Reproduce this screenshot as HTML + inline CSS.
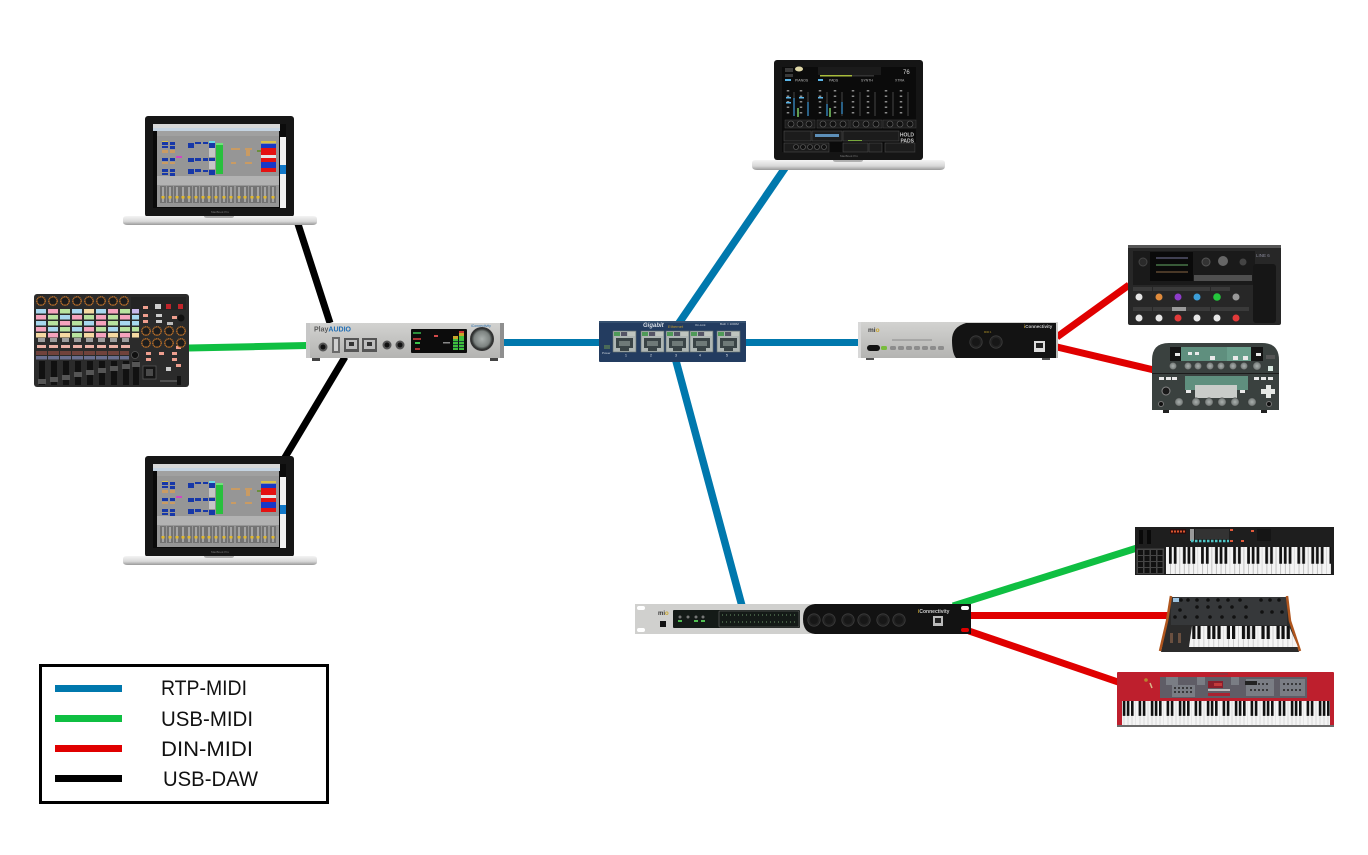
<!DOCTYPE html>
<html><head><meta charset="utf-8"><style>html,body{margin:0;padding:0;background:#fff}svg{display:block}text{font-family:"Liberation Sans",sans-serif}.soft{filter:blur(.35px)}</style></head><body>
<svg width="1368" height="855" viewBox="0 0 1368 855" xmlns="http://www.w3.org/2000/svg">
<defs>
<linearGradient id="base" x1="0" y1="0" x2="0" y2="1"><stop offset="0" stop-color="#f4f4f4"/><stop offset=".6" stop-color="#d8d8d8"/><stop offset="1" stop-color="#999"/></linearGradient>
<linearGradient id="silver" x1="0" y1="0" x2="0" y2="1"><stop offset="0" stop-color="#d2d2d0"/><stop offset="1" stop-color="#b4b4b2"/></linearGradient>
<radialGradient id="kn"><stop offset="0" stop-color="#aab0ae"/><stop offset=".75" stop-color="#7c8280"/><stop offset="1" stop-color="#2c2f2e"/></radialGradient>
<pattern id="k61" patternUnits="userSpaceOnUse" x="1166" y="547" width="32.1" height="27" viewBox="0 0 70 100" preserveAspectRatio="none"><rect width="70" height="100" fill="#f4f4f4"/><path d="M10 0V100M20 0V100M30 0V100M40 0V100M50 0V100M60 0V100M70 0V100" stroke="#999" stroke-width="1.200"/><path d="M6.500 0h6v62h-6zM17 0h6v62h-6zM37 0h6v62h-6zM47 0h6v62h-6zM57.500 0h6v62h-6z" fill="#111"/></pattern>
<pattern id="k88" patternUnits="userSpaceOnUse" x="1108" y="701" width="28" height="24" viewBox="0 0 70 100" preserveAspectRatio="none"><rect width="70" height="100" fill="#f4f4f4"/><path d="M10 0V100M20 0V100M30 0V100M40 0V100M50 0V100M60 0V100M70 0V100" stroke="#aaa" stroke-width="1.200"/><path d="M6.500 0h6.500v62h-6.500zM17 0h6.500v62h-6.500zM37 0h6.500v62h-6.500zM47 0h6.500v62h-6.500zM57.500 0h6.500v62h-6.500z" fill="#111"/></pattern>
<pattern id="k37" patternUnits="userSpaceOnUse" x="1189" y="626" width="34.600" height="21" viewBox="0 0 70 100" preserveAspectRatio="none"><rect width="70" height="100" fill="#f4f4f4"/><path d="M10 0V100M20 0V100M30 0V100M40 0V100M50 0V100M60 0V100M70 0V100" stroke="#aaa" stroke-width="1"/><path d="M6.500 0h6.500v62h-6.500zM17 0h6.500v62h-6.500zM37 0h6.500v62h-6.500zM47 0h6.500v62h-6.500zM57.500 0h6.500v62h-6.500z" fill="#111"/></pattern>
<g id="rj"><rect width="23" height="21" fill="#aeb6b4" stroke="#66706e" stroke-width=".6"/><rect x="1" y="1" width="6" height="4" fill="#4f9a58"/><rect x="15" y="1" width="7" height="4" fill="#bfc5bf"/><rect x="8" y="1" width="6" height="4" fill="#556"/><path d="M3 7h17v10h-4v3h-9v-3h-4z" fill="#3a4446"/><rect x="6" y="10" width="11" height="5" fill="#6f7a78"/></g>
<g id="din"><circle r="6.200" fill="#222" stroke="#3d3d3d" stroke-width=".8"/><circle r="4" fill="#171717"/></g>
<g id="sqk"><circle r="4.200" fill="#1d1d1d" stroke="#b96f2a" stroke-width="1.400" stroke-dasharray="1.200 .5"/></g>
<g id="strip"><rect x="-3" width="6" height="17" fill="#737373"/><rect x="-1" y="1" width="2" height="15" fill="#a5a5a5"/><rect x="-1.500" y="10" width="3" height="2.500" fill="#e2b92c"/></g>
<g id="laptop">
<rect x="145" y="116" width="149" height="101" rx="3" fill="#161616"/>
<rect x="153" y="124" width="127" height="84" fill="#0a0a0a"/>
<rect x="157" y="136" width="122" height="71" fill="#969696"/>
<rect x="153" y="124" width="127" height="4" fill="#d8d8d8"/><rect x="153" y="128" width="127" height="3" fill="#c5d4e2"/><rect x="157" y="131" width="122" height="5" fill="#a0a0a0"/><rect x="280" y="124" width="6" height="13" fill="#0c0c0c"/><rect x="280" y="137" width="6" height="71" fill="#f2f2f2"/><rect x="280" y="165" width="6" height="9" fill="#1279c9"/>
<g fill="#1738a8"><rect x="162" y="142" width="6" height="3"/><rect x="170" y="142" width="5" height="3"/><rect x="162" y="146" width="6" height="2"/><rect x="170" y="146" width="5" height="3"/><rect x="162" y="158" width="6" height="3"/><rect x="170" y="158" width="5" height="3"/><rect x="162" y="169" width="6" height="3"/><rect x="170" y="169" width="5" height="3"/><rect x="162" y="173" width="6" height="2"/><rect x="170" y="173" width="5" height="3"/><rect x="188" y="143" width="6" height="5"/><rect x="195" y="142" width="6" height="2"/><rect x="203" y="142" width="5" height="2"/><rect x="209" y="143" width="6" height="5"/><rect x="188" y="158" width="6" height="4"/><rect x="195" y="158" width="6" height="3"/><rect x="203" y="158" width="5" height="3"/><rect x="209" y="158" width="6" height="3"/><rect x="188" y="169" width="6" height="5"/><rect x="195" y="169" width="6" height="3"/><rect x="203" y="170" width="5" height="2"/><rect x="209" y="170" width="6" height="5"/></g>
<rect x="209" y="148" width="6" height="9" fill="#c6c6c6"/><rect x="209" y="161" width="6" height="8" fill="#c6c6c6"/><rect x="209" y="141" width="6" height="2" fill="#6bd8e8"/>
<g fill="#c99b63"><rect x="162" y="150" width="6" height="3"/><rect x="170" y="150" width="5" height="3"/><rect x="162" y="162" width="6" height="2"/><rect x="170" y="162" width="5" height="2"/><rect x="231" y="148" width="9" height="2"/><rect x="245" y="148" width="7" height="2"/><rect x="231" y="162" width="5" height="2"/><rect x="245" y="162" width="7" height="2"/><rect x="246" y="150" width="4" height="6"/></g>
<rect x="176" y="156" width="6" height="2" fill="#cf45c3"/><rect x="162" y="141" width="6" height="1" fill="#d7c24c"/>
<rect x="216" y="143" width="7" height="31" fill="#29c03d"/><rect x="216" y="143" width="7" height="2" fill="#6fe27a"/>
<rect x="257" y="150" width="5" height="2" fill="#6a8f3c"/>
<rect x="261" y="141" width="15" height="2" fill="#d7c24c"/><rect x="261" y="144" width="15" height="4" fill="#1738c8"/><rect x="261" y="148" width="15" height="7" fill="#e41212"/><rect x="261" y="155" width="15" height="3" fill="#e6e6e6"/><rect x="261" y="158" width="15" height="4" fill="#e41212"/><rect x="261" y="162" width="15" height="6" fill="#1738c8"/><rect x="261" y="168" width="15" height="4" fill="#e41212"/>
<rect x="157" y="176" width="122" height="9" fill="#b2b2b2"/>
<use href="#strip" x="163" y="186"/><use href="#strip" x="170" y="186"/><use href="#strip" x="177" y="186"/><use href="#strip" x="183" y="186"/><use href="#strip" x="189" y="186"/><use href="#strip" x="196" y="186"/><use href="#strip" x="203" y="186"/><use href="#strip" x="209" y="186"/><use href="#strip" x="216" y="186"/><use href="#strip" x="224" y="186"/><use href="#strip" x="231" y="186"/><use href="#strip" x="239" y="186"/><use href="#strip" x="245" y="186"/><use href="#strip" x="252" y="186"/><use href="#strip" x="258" y="186"/><use href="#strip" x="265" y="186"/><use href="#strip" x="273" y="186"/>
<path d="M123 219q0-3 4-3h186q4 0 4 3v3q0 3-5 3h-184q-5 0-5-3z" fill="url(#base)"/>
<path d="M204 216h30q0 2-3 2h-24q-3 0-3-2z" fill="#b0b0b0"/>
</g>
</defs>
<rect width="1368" height="855" fill="#fff"/>
<g class="soft">
<g fill="none" stroke-linecap="butt">
<g stroke="#000" stroke-width="7"><path d="M298 224L330 323"/><path d="M345 357L284 459"/></g>
<path d="M189 348L307 345.500" stroke="#0fbf42" stroke-width="7"/>
<g stroke="#0078ad" stroke-width="7"><path d="M503 342.500H600"/><path d="M745 342.500H859"/><path d="M679 323L785 168" stroke-width="7.500"/><path d="M676 361L742 606" stroke-width="7.500"/></g>
<g stroke="#e00000" stroke-width="7"><path d="M1057 337L1129 285"/><path d="M1057 347L1154 370"/><path d="M969 615.500H1169"/><path d="M969 631L1118 682"/></g>
<path d="M953 606L1137 548" stroke="#0fbf42" stroke-width="7"/>
</g>

<use href="#laptop"/>
<text x="220" y="213" font-size="3" fill="#777" text-anchor="middle">MacBook Pro</text>
<use href="#laptop" y="340"/>
<text x="220" y="553" font-size="3" fill="#777" text-anchor="middle">MacBook Pro</text>

<!-- APC -->
<rect x="34" y="294" width="155" height="93" rx="3" fill="#2b2b2b"/>
<rect x="131" y="297" width="55" height="13" fill="#242424"/>
<use href="#sqk" x="41" y="301"/><use href="#sqk" x="53" y="301"/><use href="#sqk" x="65" y="301"/><use href="#sqk" x="77" y="301"/><use href="#sqk" x="89" y="301"/><use href="#sqk" x="101" y="301"/><use href="#sqk" x="113" y="301"/><use href="#sqk" x="124" y="301"/>
<g>
<g fill="#a8d8ef"><rect x="36" y="309" width="10" height="4.500"/><rect x="72" y="309" width="10" height="4.500"/><rect x="60" y="315" width="10" height="4.500"/><rect x="96" y="309" width="10" height="4.500"/><rect x="36" y="321" width="10" height="4.500"/><rect x="48" y="327" width="10" height="4.500"/><rect x="84" y="321" width="10" height="4.500"/><rect x="120" y="321" width="10" height="4.500"/><rect x="132" y="315" width="7" height="4.500"/><rect x="108" y="327" width="10" height="4.500"/><rect x="72" y="327" width="10" height="4.500"/></g>
<g fill="#f5a3bd"><rect x="48" y="309" width="10" height="4.500"/><rect x="108" y="309" width="10" height="4.500"/><rect x="36" y="315" width="10" height="4.500"/><rect x="72" y="315" width="10" height="4.500"/><rect x="96" y="315" width="10" height="4.500"/><rect x="120" y="315" width="10" height="4.500"/><rect x="60" y="321" width="10" height="4.500"/><rect x="96" y="321" width="10" height="4.500"/><rect x="36" y="327" width="10" height="4.500"/><rect x="84" y="327" width="10" height="4.500"/><rect x="48" y="333" width="10" height="4.500"/><rect x="96" y="333" width="10" height="4.500"/><rect x="120" y="333" width="10" height="4.500"/></g>
<g fill="#b8e39f"><rect x="60" y="309" width="10" height="4.500"/><rect x="120" y="309" width="10" height="4.500"/><rect x="48" y="315" width="10" height="4.500"/><rect x="84" y="315" width="10" height="4.500"/><rect x="108" y="315" width="10" height="4.500"/><rect x="48" y="321" width="10" height="4.500"/><rect x="72" y="321" width="10" height="4.500"/><rect x="108" y="321" width="10" height="4.500"/><rect x="60" y="327" width="10" height="4.500"/><rect x="96" y="327" width="10" height="4.500"/><rect x="120" y="327" width="10" height="4.500"/><rect x="72" y="333" width="10" height="4.500"/></g>
<g fill="#f5d9a2"><rect x="84" y="309" width="10" height="4.500"/><rect x="36" y="333" width="10" height="4.500"/><rect x="60" y="333" width="10" height="4.500"/><rect x="84" y="333" width="10" height="4.500"/><rect x="108" y="333" width="10" height="4.500"/><rect x="132" y="333" width="7" height="4.500"/></g>
<rect x="132" y="309" width="7" height="4.500" fill="#c9b8ea"/><rect x="132" y="321" width="7" height="4.500" fill="#a8d8ef"/><rect x="132" y="327" width="7" height="4.500" fill="#b8e39f"/>
</g>
<g fill="#9d9d9d"><rect x="38" y="338" width="7" height="4"/><rect x="50" y="338" width="7" height="4"/><rect x="62" y="338" width="7" height="4"/><rect x="74" y="338" width="7" height="4"/><rect x="86" y="338" width="7" height="4"/><rect x="98" y="338" width="7" height="4"/><rect x="110" y="338" width="7" height="4"/><rect x="122" y="338" width="7" height="4"/></g>
<g fill="#eab0a5"><rect x="37" y="345" width="9" height="3"/><rect x="49" y="345" width="9" height="3"/><rect x="61" y="345" width="9" height="3"/><rect x="73" y="345" width="9" height="3"/><rect x="85" y="345" width="9" height="3"/><rect x="97" y="345" width="9" height="3"/><rect x="109" y="345" width="9" height="3"/><rect x="121" y="345" width="9" height="3"/></g>
<g fill="#70423c"><rect x="36" y="351" width="11" height="4"/><rect x="48" y="351" width="11" height="4"/><rect x="60" y="351" width="11" height="4"/><rect x="72" y="351" width="11" height="4"/><rect x="84" y="351" width="11" height="4"/><rect x="96" y="351" width="11" height="4"/><rect x="108" y="351" width="11" height="4"/><rect x="120" y="351" width="9" height="4"/></g>
<g fill="#6a6f8f"><rect x="36" y="356" width="11" height="3.500"/><rect x="48" y="356" width="11" height="3.500"/><rect x="60" y="356" width="11" height="3.500"/><rect x="72" y="356" width="11" height="3.500"/><rect x="84" y="356" width="11" height="3.500"/><rect x="96" y="356" width="11" height="3.500"/><rect x="108" y="356" width="11" height="3.500"/><rect x="120" y="356" width="9" height="3.500"/></g>
<g fill="#111"><rect x="39" y="361" width="6" height="24"/><rect x="51" y="361" width="6" height="24"/><rect x="63" y="361" width="6" height="24"/><rect x="75" y="361" width="6" height="24"/><rect x="87" y="361" width="6" height="24"/><rect x="99" y="361" width="6" height="24"/><rect x="111" y="361" width="6" height="24"/><rect x="123" y="361" width="6" height="24"/><rect x="133" y="361" width="6" height="24"/></g>
<g fill="#555"><rect x="38" y="379" width="8" height="5"/><rect x="50" y="377" width="8" height="5"/><rect x="62" y="375" width="8" height="5"/><rect x="74" y="372" width="8" height="5"/><rect x="86" y="370" width="8" height="5"/><rect x="98" y="368" width="8" height="5"/><rect x="110" y="366" width="8" height="5"/><rect x="122" y="364" width="8" height="5"/><rect x="132" y="362" width="8" height="5"/></g>
<circle cx="135" cy="355" r="3.500" fill="#111" stroke="#555" stroke-width=".8"/>
<g fill="#ee9e8e"><rect x="143" y="306" width="5" height="3"/><rect x="143" y="314" width="5" height="3"/><rect x="143" y="320" width="5" height="3"/><rect x="172" y="316" width="5" height="3"/><rect x="176" y="346" width="5" height="3"/><rect x="146" y="352" width="5" height="3"/><rect x="159" y="352" width="5" height="3"/><rect x="172" y="352" width="5" height="3"/><rect x="176" y="364" width="5" height="3"/><rect x="146" y="358" width="5" height="3"/><rect x="172" y="358" width="5" height="3"/></g>
<rect x="155" y="304" width="6" height="5" fill="#ccc"/><rect x="166" y="304" width="5" height="5" fill="#c0242a"/><rect x="178" y="304" width="5" height="5" fill="#c0242a"/>
<rect x="156" y="314" width="6" height="3" fill="#ccc"/><rect x="156" y="320" width="6" height="3" fill="#ccc"/><rect x="167" y="322" width="6" height="3" fill="#bbb"/>
<circle cx="181" cy="318" r="3.500" fill="#111"/>
<use href="#sqk" x="146" y="331"/><use href="#sqk" x="157" y="331"/><use href="#sqk" x="169" y="331"/><use href="#sqk" x="181" y="331"/><use href="#sqk" x="146" y="343"/><use href="#sqk" x="157" y="343"/><use href="#sqk" x="169" y="343"/><use href="#sqk" x="181" y="343"/>
<rect x="143" y="366" width="13" height="13" fill="#151515" stroke="#555" stroke-width=".8"/><rect x="146" y="369" width="7" height="7" fill="#4a4a4a"/>
<rect x="166" y="367" width="5" height="4" fill="#ccc"/>
<path d="M160 381H180" stroke="#777" stroke-width="1"/><rect x="177" y="376" width="4" height="9" fill="#111"/>

<!-- Audio interface -->
<rect x="306" y="323" width="198" height="35" rx="1" fill="url(#silver)"/>
<rect x="306" y="323" width="4" height="35" fill="#c7c7c7"/><rect x="500" y="323" width="4" height="35" fill="#8f8f8f"/>
<rect x="312" y="358" width="8" height="3" fill="#444"/><rect x="490" y="358" width="8" height="3" fill="#444"/>
<text x="314" y="331.500" font-size="7" font-weight="bold" fill="#5a5a5a">Play<tspan fill="#1f6eb5">AUDIO</tspan></text>
<circle cx="323" cy="347" r="4.500" fill="#555"/><circle cx="323" cy="347" r="2.500" fill="#111"/>
<rect x="332" y="337" width="8" height="16" fill="#6a6a6a"/><rect x="334" y="339" width="4" height="12" fill="#cfcfcf"/>
<rect x="344" y="338" width="15" height="14" fill="#555"/><rect x="346" y="340" width="11" height="9" fill="#bdbdbd"/><rect x="349" y="342" width="5" height="4" fill="#333"/>
<rect x="362" y="338" width="15" height="14" fill="#555"/><rect x="364" y="340" width="11" height="9" fill="#bdbdbd"/><rect x="367" y="342" width="5" height="4" fill="#333"/>
<circle cx="387" cy="345" r="4.500" fill="#555"/><circle cx="387" cy="345" r="2.500" fill="#111"/>
<circle cx="400" cy="345" r="4.500" fill="#555"/><circle cx="400" cy="345" r="2.500" fill="#111"/>
<rect x="411" y="329" width="56" height="24" rx="1" fill="#0c0c0c"/>
<rect x="413" y="332" width="8" height="2" fill="#2d8f3c"/><rect x="413" y="338" width="8" height="2" fill="#a33"/><rect x="415" y="342" width="5" height="2" fill="#3cc44a"/><rect x="415" y="348" width="5" height="2" fill="#a33"/>
<rect x="434" y="335" width="4" height="2" fill="#d24a4a"/><rect x="443" y="342" width="7" height="1.500" fill="#888"/>
<g fill="#3fbf3c"><rect x="453" y="339" width="5" height="11"/><rect x="459" y="336" width="5" height="14"/></g><rect x="459" y="333" width="5" height="3" fill="#c9a52a"/><rect x="459" y="331" width="5" height="2" fill="#c33"/><rect x="453" y="336" width="5" height="3" fill="#c9a52a"/>
<path d="M453 341.500h11M453 344.500h11M453 347.500h11" stroke="#123" stroke-width=".7"/>
<circle cx="482" cy="339" r="12" fill="#333"/><circle cx="482" cy="339" r="10.500" fill="url(#kn)"/>
<text x="471" y="327" font-size="3.500" fill="#2a6eab">iConnectivity</text>

<!-- Switch -->
<rect x="599" y="321" width="147" height="41" rx="1" fill="#233c60"/>
<rect x="599" y="321" width="147" height="2" fill="#35506f"/>
<use href="#rj" x="613" y="331"/><use href="#rj" x="641" y="331"/><use href="#rj" x="666" y="331"/><use href="#rj" x="690" y="331"/><use href="#rj" x="717" y="331"/>
<rect x="604" y="345" width="6" height="4" fill="#4a6a58"/>
<text x="643" y="327" font-size="6" font-style="italic" font-weight="bold" fill="#d5dbe3">Gigabit</text>
<text x="668" y="328" font-size="4" fill="#c49a2c">Ethernet</text>
<text x="695" y="326" font-size="3" fill="#cfd6de">On-Link</text><text x="720" y="325" font-size="3" fill="#cfd6de">Both = 1000M</text>
<text x="602" y="354" font-size="3" fill="#cfd6de">Power</text>
<g font-size="3.500" fill="#dfe4ea" text-anchor="middle"><text x="626" y="356.500">1</text><text x="651" y="356.500">2</text><text x="676" y="356.500">3</text><text x="700" y="356.500">4</text><text x="727" y="356.500">5</text></g>

<!-- Right laptop -->
<rect x="774" y="60" width="149" height="100" rx="3" fill="#151515"/>
<rect x="782" y="67" width="134" height="85" fill="#0b0b0b"/>
<rect x="785" y="68" width="8" height="4" fill="#3a3a3a"/><rect x="785" y="74" width="8" height="3" fill="#3a3a3a"/>
<ellipse cx="799" cy="69" rx="4" ry="2.500" fill="#e0d8a8"/>
<rect x="818" y="67" width="63" height="8" fill="#1b1b1b"/><rect x="820" y="75" width="32" height="1.500" fill="#a8bc3c"/><rect x="852" y="75" width="22" height="1.500" fill="#333"/>
<text x="903" y="74" font-size="6" fill="#ddd">76</text>
<rect x="785" y="79" width="6" height="2" fill="#5ab5e8"/><rect x="818" y="79" width="5" height="2" fill="#5ab5e8"/>
<g font-size="3.500" fill="#bbb"><text x="795" y="81.500">PIANOS</text><text x="829" y="81.500">PADS</text><text x="861" y="81.500">SYNTH</text><text x="895" y="81.500">XTRA</text></g>
<path d="M788 90v26M801 90v26M820 90v26M835 90v26M853 90v26M868 90v26M886 90v26M901 90v26" stroke="#8a8a8a" stroke-width="2.500" stroke-dasharray="1.500 4"/>
<path d="M794 92v24M808 92v24M827 92v24M842 92v24M860 92v24M875 92v24M893 92v24M908 92v24" stroke="#333" stroke-width="1.500"/>
<path d="M794 98v18M808 102v14M827 104v12M842 102v12" stroke="#2d76a8" stroke-width="1.500"/>
<path d="M798 108v9M830 108v9" stroke="#5f9c4e" stroke-width="2"/>
<rect x="786" y="97" width="5" height="1.500" fill="#5ab5e8"/><rect x="786" y="102" width="5" height="1.500" fill="#5ab5e8"/><rect x="818" y="97" width="5" height="1.500" fill="#5ab5e8"/><rect x="799" y="97" width="5" height="1.500" fill="#5ab5e8"/>
<g fill="#1d1d1d" stroke="#444" stroke-width=".5"><rect x="785" y="120" width="30" height="8"/><rect x="817" y="120" width="32" height="8"/><rect x="850" y="120" width="32" height="8"/><rect x="883" y="120" width="33" height="8"/></g>
<g fill="#111" stroke="#666" stroke-width=".6"><circle cx="791" cy="124" r="3"/><circle cx="800" cy="124" r="3"/><circle cx="809" cy="124" r="3"/><circle cx="823" cy="124" r="3"/><circle cx="833" cy="124" r="3"/><circle cx="843" cy="124" r="3"/><circle cx="856" cy="124" r="3"/><circle cx="866" cy="124" r="3"/><circle cx="876" cy="124" r="3"/><circle cx="890" cy="124" r="3"/><circle cx="900" cy="124" r="3"/><circle cx="910" cy="124" r="3"/></g>
<g fill="#1c1c1c" stroke="#555" stroke-width=".5"><rect x="784" y="131" width="27" height="10"/><rect x="812" y="131" width="30" height="10"/><rect x="843" y="131" width="56" height="10"/><rect x="784" y="143" width="45" height="9"/><rect x="843" y="143" width="25" height="9"/><rect x="869" y="143" width="13" height="9"/><rect x="885" y="143" width="30" height="9"/></g>
<rect x="815" y="134" width="24" height="3" fill="#5d8fb8"/><rect x="848" y="140" width="14" height="1" fill="#78a83c"/>
<g fill="#ccc" font-weight="bold" font-size="5" text-anchor="end"><text x="914" y="136.500">HOLD</text><text x="914" y="142.500">PADS</text></g>
<g fill="#111" stroke="#666" stroke-width=".6"><circle cx="796" cy="147" r="2.500"/><circle cx="803" cy="147" r="2.500"/><circle cx="810" cy="147" r="2.500"/><circle cx="817" cy="147" r="2.500"/><circle cx="824" cy="147" r="2.500"/></g>
<text x="849" y="157" font-size="3" fill="#777" text-anchor="middle">MacBook Pro</text>
<path d="M752 163q0-3 4-3h185q4 0 4 3v3q0 4-5 4h-183q-5 0-5-4z" fill="url(#base)"/>
<path d="M833 160h30q0 2-3 2h-24q-3 0-3-2z" fill="#b0b0b0"/>

<!-- mio -->
<rect x="858" y="322" width="200" height="36" fill="url(#silver)"/>
<path d="M1056 323H966q-14 4-14 17t4 18h100z" fill="#131313"/>
<rect x="858" y="322" width="3" height="36" fill="#d8d8d8"/>
<rect x="866" y="358" width="8" height="2" fill="#555"/><rect x="1042" y="358" width="8" height="2" fill="#555"/>
<text x="868" y="332" font-size="6.500" font-weight="bold" fill="#3c3c3c">mi<tspan fill="#c9a52a">o</tspan></text>
<rect x="867" y="345" width="13" height="6" rx="3" fill="#111"/><rect x="881" y="346" width="6" height="4" rx="1.500" fill="#78bc3c"/>
<g fill="#8c8c8c"><rect x="890" y="346" width="6" height="4" rx="1.500"/><rect x="898" y="346" width="6" height="4" rx="1.500"/><rect x="906" y="346" width="6" height="4" rx="1.500"/><rect x="914" y="346" width="6" height="4" rx="1.500"/><rect x="922" y="346" width="6" height="4" rx="1.500"/><rect x="930" y="346" width="6" height="4" rx="1.500"/><rect x="938" y="346" width="6" height="4" rx="1.500"/></g>
<path d="M892 340h40" stroke="#777" stroke-width=".7"/>
<use href="#din" x="976" y="342"/><use href="#din" x="996" y="342"/>
<rect x="1034" y="341" width="11" height="11" fill="#ddd"/><rect x="1036" y="343" width="7" height="5" fill="#222"/>
<text x="1024" y="328" font-size="4.500" font-weight="bold" fill="#ccc"><tspan fill="#c9a52a">i</tspan>Connectivity</text>
<text x="984" y="333" font-size="2.500" fill="#b89a2a">MIDI 1</text>

<!-- HX -->
<rect x="1128" y="245" width="153" height="80" rx="2" fill="#272727"/>
<rect x="1128" y="245" width="153" height="3" fill="#555"/>
<rect x="1133" y="251" width="122" height="34" fill="#1a1a1a"/>
<rect x="1150" y="252" width="43" height="29" fill="#0a0a0a"/>
<g stroke-width="1"><path d="M1156 265h32" stroke="#6a6" /><path d="M1156 272h32" stroke="#864" /><path d="M1156 258h32" stroke="#779"/></g>
<rect x="1194" y="275" width="58" height="6" fill="#4f4f4f"/>
<rect x="1253" y="264" width="23" height="59" rx="3" fill="#161616"/>
<circle cx="1143" cy="262" r="4" fill="#2a2a2a" stroke="#444"/>
<circle cx="1206" cy="262" r="4" fill="#333" stroke="#555"/><circle cx="1223" cy="261" r="5" fill="#666"/><circle cx="1243" cy="262" r="3.500" fill="#444"/>
<text x="1256" y="257" font-size="4.500" fill="#889">LINE 6</text>
<g fill="#3a3a3a"><rect x="1133" y="287" width="19" height="4"/><rect x="1153" y="287" width="19" height="4"/><rect x="1172" y="287" width="19" height="4"/><rect x="1191" y="287" width="19" height="4"/><rect x="1211" y="287" width="19" height="4"/><rect x="1133" y="307" width="19" height="4"/><rect x="1153" y="307" width="19" height="4"/><rect x="1172" y="307" width="19" height="4"/><rect x="1191" y="307" width="19" height="4"/><rect x="1211" y="307" width="19" height="4"/><rect x="1230" y="307" width="19" height="4"/></g>
<rect x="1172" y="307" width="14" height="4" fill="#9a9a9a"/>
<circle cx="1139" cy="297" r="3.500" fill="#e6e6e6"/><circle cx="1159" cy="297" r="3.500" fill="#e08b3c"/><circle cx="1178" cy="297" r="3.500" fill="#8e3cc9"/><circle cx="1197" cy="297" r="3.500" fill="#3c9ed8"/><circle cx="1217" cy="297" r="3.800" fill="#24c63c"/><circle cx="1236" cy="297" r="3.500" fill="#999"/>
<circle cx="1139" cy="318" r="3.500" fill="#e6e6e6"/><circle cx="1159" cy="318" r="3.500" fill="#e6e6e6"/><circle cx="1178" cy="318" r="3.500" fill="#e33a3a"/><circle cx="1197" cy="318" r="3.500" fill="#e6e6e6"/><circle cx="1217" cy="318" r="3.500" fill="#e6e6e6"/><circle cx="1236" cy="318" r="3.500" fill="#e33a3a"/>

<!-- Kemper -->
<path d="M1152 360q0-17 17-17h93q17 0 17 17v50h-127z" fill="#3a413f"/>
<rect x="1152" y="373" width="127" height="1" fill="#1c1c1c"/>
<rect x="1170" y="347" width="93" height="14" fill="#141414"/>
<rect x="1181" y="347" width="46" height="14" fill="#5f8f7e"/><rect x="1227" y="347" width="24" height="14" fill="#6a9f8c"/>
<g fill="#e9e9e9"><rect x="1175" y="353" width="5" height="3"/><rect x="1188" y="352" width="4" height="3"/><rect x="1195" y="352" width="4" height="3"/><rect x="1210" y="356" width="5" height="4"/><rect x="1233" y="356" width="5" height="4"/><rect x="1243" y="356" width="5" height="4"/><rect x="1256" y="353" width="5" height="3"/></g>
<rect x="1266" y="355" width="9" height="4" fill="#555"/><rect x="1268" y="366" width="5" height="5" fill="#d8e8e0"/>
<g fill="url(#kn)"><circle cx="1173" cy="366" r="4"/><circle cx="1188" cy="366" r="4"/><circle cx="1198" cy="366" r="4"/><circle cx="1210" cy="366" r="4"/><circle cx="1221" cy="366" r="4"/><circle cx="1233" cy="366" r="4"/><circle cx="1244" cy="366" r="4"/><circle cx="1257" cy="366" r="4.500"/></g>
<rect x="1185" y="376" width="63" height="14" fill="#5f8f7e"/>
<rect x="1195" y="385" width="42" height="13" fill="#c9ccc9"/>
<g fill="#e9e9e9"><rect x="1159" y="377" width="5" height="3"/><rect x="1166" y="377" width="5" height="3"/><rect x="1172" y="377" width="5" height="3"/><rect x="1254" y="377" width="5" height="3"/><rect x="1261" y="377" width="5" height="3"/><rect x="1268" y="377" width="5" height="3"/><rect x="1186" y="390" width="5" height="3"/><rect x="1240" y="390" width="5" height="3"/></g>
<path d="M1265 391h5v-4h5v4h4v5h-4v4h-5v-4h-5z" fill="#e6e9e6" transform="translate(-4 -2)"/>
<circle cx="1166" cy="391" r="4" fill="#1a1a1a" stroke="#888" stroke-width="1"/>
<g fill="url(#kn)"><circle cx="1179" cy="402" r="4.500"/><circle cx="1196" cy="402" r="4.500"/><circle cx="1209" cy="402" r="4.500"/><circle cx="1222" cy="402" r="4.500"/><circle cx="1235" cy="402" r="4.500"/><circle cx="1252" cy="402" r="4.500"/></g>
<circle cx="1161" cy="404" r="2.500" fill="#111" stroke="#777"/><circle cx="1269" cy="404" r="2.500" fill="#111" stroke="#777"/>
<rect x="1163" y="410" width="6" height="3" fill="#222"/><rect x="1261" y="410" width="6" height="3" fill="#222"/>

<!-- mio4 -->
<rect x="635" y="604" width="336" height="30" fill="#d0d0ce"/>
<path d="M971 604H815q-12 1-12 15t12 15H971z" fill="#121212"/>
<rect x="637" y="606" width="8" height="4" rx="2" fill="#fff"/><rect x="637" y="628" width="8" height="4" rx="2" fill="#fff"/>
<rect x="961" y="606" width="8" height="4" rx="2" fill="#fff"/><rect x="961" y="628" width="8" height="4" rx="2" fill="#e00000"/>
<text x="658" y="615" font-size="6" font-weight="bold" fill="#333">mi<tspan fill="#c9a52a">o</tspan></text>
<rect x="660" y="621" width="6" height="6" fill="#111"/>
<rect x="673" y="610" width="127" height="18" rx="1" fill="#141a17"/>
<rect x="719" y="611" width="80" height="16" rx="1" fill="none" stroke="#555" stroke-width=".8"/>
<path d="M722 615h74M722 622h74" stroke="#5b7d5a" stroke-width="1.200" stroke-dasharray="1 3"/>
<g fill="#52c052"><rect x="678" y="620" width="4" height="2"/><rect x="694" y="620" width="4" height="2"/><rect x="701" y="620" width="4" height="2"/></g>
<g fill="#777"><circle cx="680" cy="617" r="1.500"/><circle cx="688" cy="617" r="1.500"/><circle cx="696" cy="617" r="1.500"/><circle cx="703" cy="617" r="1.500"/></g>
<use href="#din" x="814" y="620"/><use href="#din" x="829" y="620"/><use href="#din" x="848" y="620"/><use href="#din" x="864" y="620"/><use href="#din" x="883" y="620"/><use href="#din" x="899" y="620"/>
<text x="918" y="613" font-size="5" font-weight="bold" fill="#ccc"><tspan fill="#c9a52a">i</tspan>Connectivity</text>
<rect x="933" y="616" width="10" height="10" fill="#bbb"/><rect x="935" y="618" width="6" height="5" fill="#222"/>

<!-- AKAI -->
<rect x="1135" y="527" width="199" height="48" fill="#1e1e1e"/>
<rect x="1136.500" y="548.500" width="27.500" height="25.500" fill="#454545"/>
<g fill="#111"><rect x="1138" y="550" width="5" height="5"/><rect x="1144.500" y="550" width="5" height="5"/><rect x="1151" y="550" width="5" height="5"/><rect x="1157.500" y="550" width="5" height="5"/><rect x="1138" y="556" width="5" height="5"/><rect x="1144.500" y="556" width="5" height="5"/><rect x="1151" y="556" width="5" height="5"/><rect x="1157.500" y="556" width="5" height="5"/><rect x="1138" y="562" width="5" height="5"/><rect x="1144.500" y="562" width="5" height="5"/><rect x="1151" y="562" width="5" height="5"/><rect x="1157.500" y="562" width="5" height="5"/><rect x="1138" y="568" width="5" height="5"/><rect x="1144.500" y="568" width="5" height="5"/><rect x="1151" y="568" width="5" height="5"/><rect x="1157.500" y="568" width="5" height="5"/></g>
<rect x="1166" y="547" width="165" height="27" fill="url(#k61)"/>
<rect x="1139" y="530" width="4" height="14" fill="#090909"/><rect x="1147" y="530" width="4" height="14" fill="#090909"/>
<rect x="1170" y="529" width="16" height="5" fill="#2a0d0d"/><path d="M1171 531.500h14" stroke="#d9552f" stroke-width="2" stroke-dasharray="2 1"/>
<rect x="1190" y="529" width="4" height="12" fill="#9a9a9a"/><rect x="1195" y="529" width="34" height="10" fill="#333"/>
<path d="M1191 541h38" stroke="#4ec5c5" stroke-width="2.500" stroke-dasharray="2.500 1.500"/>
<g fill="#e25a3c"><rect x="1230" y="529" width="3" height="2"/><rect x="1230" y="540" width="3" height="2"/><rect x="1251" y="530" width="3" height="2"/><rect x="1241" y="540" width="3" height="2"/></g>
<rect x="1257" y="529" width="14" height="12" fill="#151515"/>

<!-- Sub 37 -->
<path d="M1171 597H1287L1290 622L1299 652H1161L1167 622z" fill="#2b2b2b"/>
<rect x="1171" y="597" width="116" height="28" fill="#36383a"/>
<path d="M1171 596L1167 621L1160 651M1287 596L1290 621L1300 651" fill="none" stroke="#b0561e" stroke-width="2.500"/>
<rect x="1173" y="598" width="6" height="4" fill="#9ec4e0"/>
<g fill="#111"><circle cx="1181" cy="600" r="1.800"/><circle cx="1188" cy="600" r="1.800"/><circle cx="1197" cy="600" r="1.800"/><circle cx="1208" cy="600" r="1.800"/><circle cx="1218" cy="600" r="1.800"/><circle cx="1228" cy="600" r="1.800"/><circle cx="1240" cy="600" r="1.800"/><circle cx="1261" cy="600" r="1.800"/><circle cx="1270" cy="600" r="1.800"/><circle cx="1279" cy="600" r="1.800"/><circle cx="1180" cy="610" r="1.800"/><circle cx="1197" cy="607" r="1.800"/><circle cx="1208" cy="607" r="1.800"/><circle cx="1220" cy="607" r="1.800"/><circle cx="1232" cy="607" r="1.800"/><circle cx="1246" cy="607" r="1.800"/><circle cx="1262" cy="612" r="1.800"/><circle cx="1272" cy="612" r="1.800"/><circle cx="1282" cy="612" r="1.800"/><circle cx="1175" cy="617" r="1.800"/><circle cx="1185" cy="617" r="1.800"/><circle cx="1197" cy="617" r="1.800"/><circle cx="1210" cy="617" r="1.800"/><circle cx="1222" cy="617" r="1.800"/><circle cx="1234" cy="617" r="1.800"/><circle cx="1246" cy="617" r="1.800"/></g>
<polygon points="1192,626 1289,626 1298,647 1189,647" fill="url(#k37)"/>
<rect x="1170" y="633" width="3" height="10" fill="#6a5040"/><rect x="1178" y="633" width="3" height="10" fill="#6a5040"/>

<!-- Nord -->
<rect x="1117" y="672" width="217" height="55" rx="1" fill="#be1f2d"/>
<rect x="1122" y="701" width="208" height="24" fill="url(#k88)"/>
<rect x="1117" y="725" width="217" height="2" fill="#6b6b6b"/>
<rect x="1160" y="677" width="147" height="21" fill="#5f5d66"/>
<g fill="#7a7d84"><rect x="1166" y="677" width="12" height="8"/><rect x="1197" y="677" width="8" height="8"/><rect x="1231" y="677" width="8" height="8"/><rect x="1280" y="679" width="25" height="17"/><rect x="1246" y="679" width="28" height="17"/><rect x="1172" y="685" width="23" height="12"/></g>
<rect x="1208" y="681" width="15" height="7" fill="#8a1f2c"/><rect x="1214" y="683" width="8" height="3" fill="#c23b3b"/>
<rect x="1208" y="689" width="22" height="2" fill="#bbb"/><rect x="1208" y="693" width="22" height="3" fill="#a92230"/>
<path d="M1174 688h20M1174 692h20M1250 684h20M1250 690h20M1283 684h20M1283 690h20" stroke="#222" stroke-width="1.500" stroke-dasharray="2 2"/>
<rect x="1245" y="681" width="12" height="4" fill="#222"/>
<circle cx="1146" cy="680" r="1.800" fill="#b88630"/><path d="M1150 683l2 5" stroke="#d8b88a" stroke-width="1.500"/>
<rect x="1210" y="673" width="18" height="2" fill="#96303a"/>
</g>

<!-- Legend -->
<rect x="40.500" y="665.500" width="287" height="137" fill="#fff" stroke="#000" stroke-width="3"/>
<rect x="55" y="685" width="67" height="7" fill="#0078ad"/>
<rect x="55" y="715" width="67" height="7" fill="#0fbf42"/>
<rect x="55" y="745" width="67" height="7" fill="#e00000"/>
<rect x="55" y="775" width="67" height="7" fill="#000"/>
<g font-size="21" fill="#111">
<text x="161" y="695" textLength="86" lengthAdjust="spacingAndGlyphs">RTP-MIDI</text>
<text x="161" y="726" textLength="92" lengthAdjust="spacingAndGlyphs">USB-MIDI</text>
<text x="161" y="756" textLength="92" lengthAdjust="spacingAndGlyphs">DIN-MIDI</text>
<text x="163" y="786" textLength="95" lengthAdjust="spacingAndGlyphs">USB-DAW</text>
</g>
</svg>
</body></html>
